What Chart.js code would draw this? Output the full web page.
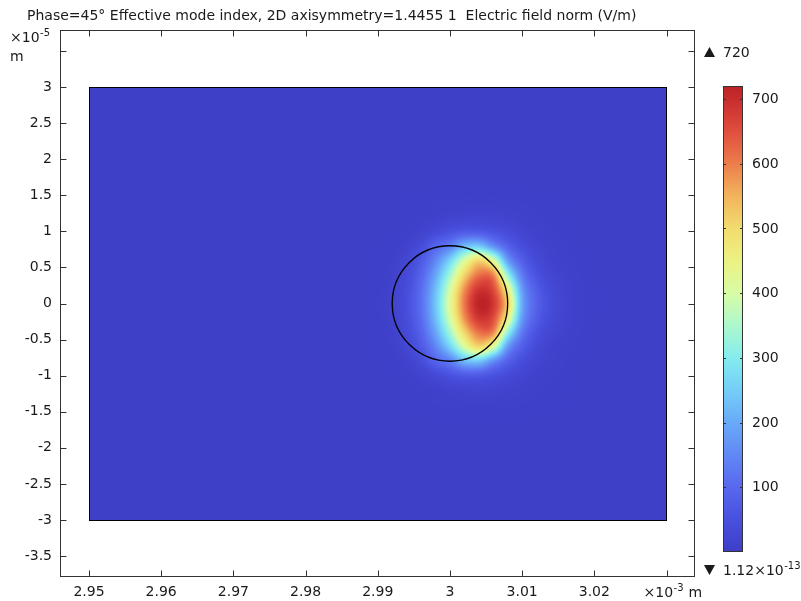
<!DOCTYPE html>
<html><head><meta charset="utf-8">
<script src="https://cdn.jsdelivr.net/npm/chart.js@4.4.1/dist/chart.umd.min.js"></script>
<style>html,body{margin:0;padding:0;background:#fff;overflow:hidden}#wrap{width:801px;height:601px}</style>
</head><body><div id="wrap"><canvas id="c" width="801" height="601"></canvas></div>
<script>
// ---------- data ----------
const titleText = 'Phase=45° Effective mode index, 2D axisymmetry=1.4455 1  Electric field norm (V/m)';
const xTicks = [2.95, 2.96, 2.97, 2.98, 2.99, 3.00, 3.01, 3.02, 3.03];
const xTickLabels = ['2.95', '2.96', '2.97', '2.98', '2.99', '3', '3.01', '3.02', ''];
const yTicks = [3.5, 3, 2.5, 2, 1.5, 1, 0.5, 0, -0.5, -1, -1.5, -2, -2.5, -3, -3.5];
const yTickLabels = ['', '3', '2.5', '2', '1.5', '1', '0.5', '0', '-0.5', '-1', '-1.5', '-2', '-2.5', '-3', '-3.5'];
const xRange = [2.945983, 3.033948];      // ×10^-3 m
const yRange = [-3.790, 3.790];           // ×10^-5 m
const domainX = [2.95, 3.03];
const domainY = [-3, 3];
const fiberCircle = { x: 3.000, y: 0, rx: 0.008, ry: 0.8 };   // radius 8 µm
// electric field norm samples (V/m); columns = fieldX (×10^-3 m), rows = fieldY (×10^-5 m)
const fieldX = [2.988, 2.990, 2.992, 2.994, 2.996, 2.998, 3.000, 3.002, 3.004, 3.006, 3.008, 3.010, 3.012, 3.014, 3.016, 3.018, 3.020];
const fieldY = [1.6, 1.4, 1.2, 1.0, 0.8, 0.6, 0.4, 0.2, 0.0, -0.2, -0.4, -0.6, -0.8, -1.0, -1.2, -1.4, -1.6];
const fieldValues = [
  [5, 5, 5, 5, 5, 5, 5, 5, 5, 5, 5, 5, 5, 5, 5, 5, 5],
  [5, 5, 5, 5, 6, 7, 8, 9, 9, 9, 8, 7, 6, 6, 5, 5, 5],
  [5, 5, 5, 5, 7, 10, 15, 19, 21, 19, 15, 11, 8, 6, 5, 5, 5],
  [5, 5, 5, 7, 15, 30, 52, 68, 68, 54, 36, 20, 12, 8, 6, 5, 5],
  [5, 5, 6, 14, 38, 92, 135, 220, 240, 160, 85, 42, 20, 11, 7, 5, 5],
  [5, 6, 8, 25, 68, 146, 258, 400, 500, 410, 180, 80, 34, 15, 9, 6, 5],
  [5, 6, 11, 35, 90, 192, 338, 505, 610, 590, 320, 130, 55, 24, 12, 7, 5],
  [5, 6, 14, 41, 106, 226, 397, 580, 685, 655, 455, 180, 78, 34, 16, 8, 5],
  [5, 7, 16, 44, 112, 238, 420, 605, 718, 685, 515, 200, 88, 40, 18, 9, 5],
  [5, 6, 14, 41, 106, 226, 397, 580, 685, 655, 455, 180, 78, 34, 16, 8, 5],
  [5, 6, 11, 35, 90, 192, 338, 505, 610, 590, 320, 130, 55, 24, 12, 7, 5],
  [5, 6, 8, 25, 68, 146, 258, 400, 500, 410, 180, 80, 34, 15, 9, 6, 5],
  [5, 5, 6, 14, 38, 92, 135, 220, 240, 160, 85, 42, 20, 11, 7, 5, 5],
  [5, 5, 5, 7, 15, 30, 52, 68, 68, 54, 36, 20, 12, 8, 6, 5, 5],
  [5, 5, 5, 5, 7, 10, 15, 19, 21, 19, 15, 11, 8, 6, 5, 5, 5],
  [5, 5, 5, 5, 6, 7, 8, 9, 9, 9, 8, 7, 6, 6, 5, 5, 5],
  [5, 5, 5, 5, 5, 5, 5, 5, 5, 5, 5, 5, 5, 5, 5, 5, 5]
];
const backgroundValue = 5;
const colorMin = 0, colorMax = 720;
const cbTicks = [100, 200, 300, 400, 500, 600, 700];
const cbMaxLabel = '720';
const cbMinBase = '1.12×10', cbMinExp = '-13';

// ---------- style ----------
const FONT = '"DejaVu Sans", "Liberation Sans", sans-serif';
const TXT = '#1a1a1a';
const colorStops = [
  [0, [62, 62, 198]], [50, [72, 80, 222]], [100, [88, 104, 238]], [150, [96, 136, 245]],
  [200, [105, 170, 248]], [250, [116, 206, 248]], [300, [132, 236, 238]], [350, [172, 248, 205]],
  [400, [216, 252, 165]], [450, [236, 242, 130]], [500, [242, 220, 110]], [550, [242, 180, 92]],
  [600, [236, 125, 75]], [650, [224, 78, 62]], [700, [200, 45, 45]], [720, [188, 35, 38]]
];
function colorOf(v) {
  if (v <= colorStops[0][0]) return colorStops[0][1];
  for (let k = 1; k < colorStops.length; k++) {
    if (v <= colorStops[k][0]) {
      const a = colorStops[k - 1], b = colorStops[k];
      const t = (v - a[0]) / (b[0] - a[0]);
      return [a[1][0] + t * (b[1][0] - a[1][0]), a[1][1] + t * (b[1][1] - a[1][1]), a[1][2] + t * (b[1][2] - a[1][2])];
    }
  }
  return colorStops[colorStops.length - 1][1];
}
const rgb = c => `rgb(${Math.round(c[0])},${Math.round(c[1])},${Math.round(c[2])})`;

function cubic(p0, p1, p2, p3, t) {
  return p1 + 0.5 * t * (p2 - p0 + t * (2 * p0 - 5 * p1 + 4 * p2 - p3 + t * (3 * (p1 - p2) + p3 - p0)));
}
function sampleField(fi, fj) {
  const nx = fieldX.length, ny = fieldY.length;
  const ci = i => Math.max(0, Math.min(nx - 1, i));
  const cj = j => Math.max(0, Math.min(ny - 1, j));
  const i = Math.floor(fi), j = Math.floor(fj);
  const tx = fi - i, ty = fj - j;
  const r = [];
  for (let m = -1; m <= 2; m++) {
    const row = fieldValues[cj(j + m)];
    r.push(cubic(row[ci(i - 1)], row[ci(i)], row[ci(i + 1)], row[ci(i + 2)], tx));
  }
  return cubic(r[0], r[1], r[2], r[3], ty);
}

function drawSup(ctx, base, exp, x, y) {
  ctx.textAlign = 'left'; ctx.textBaseline = 'alphabetic';
  ctx.font = '14px ' + FONT;
  const wb = ctx.measureText(base).width;
  ctx.fillText(base, x, y);
  ctx.font = '10px ' + FONT;
  const we = ctx.measureText(exp).width;
  ctx.fillText(exp, x + wb + 0.5, y - 6);
  return x + wb + 0.5 + we;
}

const fieldPlugin = {
  id: 'field',
  beforeDatasetsDraw(chart) {
    const ctx = chart.ctx, xs = chart.scales.x, ys = chart.scales.y;
    const dx0 = xs.getPixelForValue(domainX[0]), dx1 = xs.getPixelForValue(domainX[1]);
    const dy0 = ys.getPixelForValue(domainY[1]), dy1 = ys.getPixelForValue(domainY[0]);
    ctx.save();
    ctx.fillStyle = rgb(colorOf(backgroundValue));
    ctx.fillRect(dx0, dy0, dx1 - dx0, dy1 - dy0);
    // field image
    const px0 = Math.floor(xs.getPixelForValue(fieldX[0])), px1 = Math.ceil(xs.getPixelForValue(fieldX[fieldX.length - 1]));
    const py0 = Math.floor(ys.getPixelForValue(fieldY[0])), py1 = Math.ceil(ys.getPixelForValue(fieldY[fieldY.length - 1]));
    const w = px1 - px0, h = py1 - py0;
    const off = document.createElement('canvas'); off.width = w; off.height = h;
    const octx = off.getContext('2d');
    const img = octx.createImageData(w, h);
    const stepX = fieldX[1] - fieldX[0], stepY = fieldY[0] - fieldY[1];
    for (let py = 0; py < h; py++) {
      const yv = ys.getValueForPixel(py0 + py + 0.5);
      const fj = (fieldY[0] - yv) / stepY;
      for (let px = 0; px < w; px++) {
        const xv = xs.getValueForPixel(px0 + px + 0.5);
        const fi = (xv - fieldX[0]) / stepX;
        let v = backgroundValue;
        if (fi >= 0 && fi <= fieldX.length - 1 && fj >= 0 && fj <= fieldY.length - 1) v = sampleField(fi, fj);
        v = Math.max(colorMin, Math.min(colorMax, v));
        const c = colorOf(v);
        const k = (py * w + px) * 4;
        img.data[k] = c[0]; img.data[k + 1] = c[1]; img.data[k + 2] = c[2]; img.data[k + 3] = 255;
      }
    }
    octx.putImageData(img, 0, 0);
    ctx.drawImage(off, px0, py0);
    // domain border
    ctx.strokeStyle = '#000'; ctx.lineWidth = 1;
    ctx.strokeRect(Math.round(dx0) + 0.5, Math.round(dy0) + 0.5, Math.round(dx1 - dx0) - 1, Math.round(dy1 - dy0));
    // fiber circle
    const cx = xs.getPixelForValue(fiberCircle.x), cy = ys.getPixelForValue(fiberCircle.y);
    const rx = xs.getPixelForValue(fiberCircle.x + fiberCircle.rx) - cx;
    const ry = cy - ys.getPixelForValue(fiberCircle.y + fiberCircle.ry);
    ctx.lineWidth = 1.3;
    ctx.beginPath(); ctx.ellipse(cx, cy, rx, ry, 0, 0, Math.PI * 2); ctx.stroke();
    ctx.restore();
  },
  afterDraw(chart) {
    const ctx = chart.ctx, xs = chart.scales.x, ys = chart.scales.y, a = chart.chartArea;
    ctx.save();
    // frame
    ctx.strokeStyle = '#333'; ctx.lineWidth = 1;
    const L = Math.round(a.left) + 0.5, R = Math.round(a.right) - 0.5, T = Math.round(a.top) + 0.5, B = Math.round(a.bottom) - 0.5;
    ctx.strokeRect(L, T, R - L, B - T);
    // inward ticks
    ctx.beginPath();
    xTicks.forEach(v => {
      const p = Math.round(xs.getPixelForValue(v)) + 0.5;
      ctx.moveTo(p, B); ctx.lineTo(p, B - 6);
      ctx.moveTo(p, T); ctx.lineTo(p, T + 6);
    });
    yTicks.forEach(v => {
      const p = Math.round(ys.getPixelForValue(v)) + 0.5;
      ctx.moveTo(L, p); ctx.lineTo(L + 6, p);
      ctx.moveTo(R, p); ctx.lineTo(R - 6, p);
    });
    ctx.stroke();
    // title
    ctx.fillStyle = TXT;
    ctx.font = '14px ' + FONT; ctx.textAlign = 'left'; ctx.textBaseline = 'alphabetic';
    ctx.fillText(titleText, 27, 20);
    // axis unit labels
    drawSup(ctx, '×10', '-5', 10, 42);
    ctx.font = '14px ' + FONT; ctx.textAlign = 'left'; ctx.fillText('m', 10, 61);
    const p303 = xs.getPixelForValue(xTicks[xTicks.length - 1]);
    const endX = drawSup(ctx, '×10', '-3', p303 - 23, 597);
    ctx.font = '14px ' + FONT; ctx.textAlign = 'left'; ctx.fillText('m', endX + 5, 597);
    // colorbar
    const cbL = 723, cbR = 743, cbT = 86, cbB = 552;
    const valToY = v => cbB - (v - colorMin) / (colorMax - colorMin) * (cbB - cbT);
    const grad = ctx.createLinearGradient(0, cbB, 0, cbT);
    colorStops.forEach(s => grad.addColorStop((s[0] - colorMin) / (colorMax - colorMin), rgb(s[1])));
    ctx.fillStyle = grad;
    ctx.fillRect(cbL, cbT, cbR - cbL, cbB - cbT);
    ctx.strokeStyle = '#333'; ctx.lineWidth = 1;
    ctx.strokeRect(cbL + 0.5, cbT + 0.5, cbR - cbL - 1, cbB - cbT - 1);
    ctx.beginPath();
    cbTicks.forEach(v => {
      const p = Math.round(valToY(v)) + 0.5;
      ctx.moveTo(cbL, p); ctx.lineTo(cbL + 3, p);
      ctx.moveTo(cbR, p); ctx.lineTo(cbR - 3, p);
    });
    ctx.stroke();
    ctx.fillStyle = TXT; ctx.font = '14px ' + FONT; ctx.textAlign = 'left'; ctx.textBaseline = 'middle';
    cbTicks.forEach(v => ctx.fillText(String(v), 752, valToY(v) + 0.5));
    // max / min markers
    ctx.beginPath(); ctx.moveTo(704, 57); ctx.lineTo(715, 57); ctx.lineTo(709.5, 47); ctx.closePath(); ctx.fill();
    ctx.textBaseline = 'alphabetic';
    ctx.fillText(cbMaxLabel, 723, 57);
    ctx.beginPath(); ctx.moveTo(704, 565); ctx.lineTo(715, 565); ctx.lineTo(709.5, 575); ctx.closePath(); ctx.fill();
    drawSup(ctx, cbMinBase, cbMinExp, 723, 575);
    ctx.restore();
  }
};

Chart.defaults.font.family = FONT;
Chart.defaults.font.size = 14;
Chart.defaults.color = TXT;

new Chart(document.getElementById('c'), {
  type: 'scatter',
  data: { datasets: [{ data: [], pointRadius: 0 }] },
  options: {
    responsive: false, animation: false, events: [],
    layout: { padding: { top: 30, right: 106, left: 0, bottom: 0 } },
    plugins: { legend: { display: false }, tooltip: { enabled: false } },
    scales: {
      x: {
        type: 'linear', min: xRange[0], max: xRange[1],
        afterBuildTicks: s => { s.ticks = xTicks.map(v => ({ value: v })); },
        afterFit: s => { s.height = 24; },
        grid: { display: false, drawTicks: false },
        border: { display: false },
        ticks: {
          padding: 7, maxRotation: 0, autoSkip: false,
          callback: (v, i) => xTickLabels[i]
        }
      },
      y: {
        type: 'linear', min: yRange[0], max: yRange[1],
        afterBuildTicks: s => { s.ticks = yTicks.slice().reverse().map(v => ({ value: v })); },
        afterFit: s => { s.width = 60; },
        grid: { display: false, drawTicks: false },
        border: { display: false },
        ticks: {
          padding: 8, autoSkip: false,
          callback: (v, i) => yTickLabels[yTickLabels.length - 1 - i]
        }
      }
    }
  },
  plugins: [fieldPlugin]
});
</script>
</body></html>
